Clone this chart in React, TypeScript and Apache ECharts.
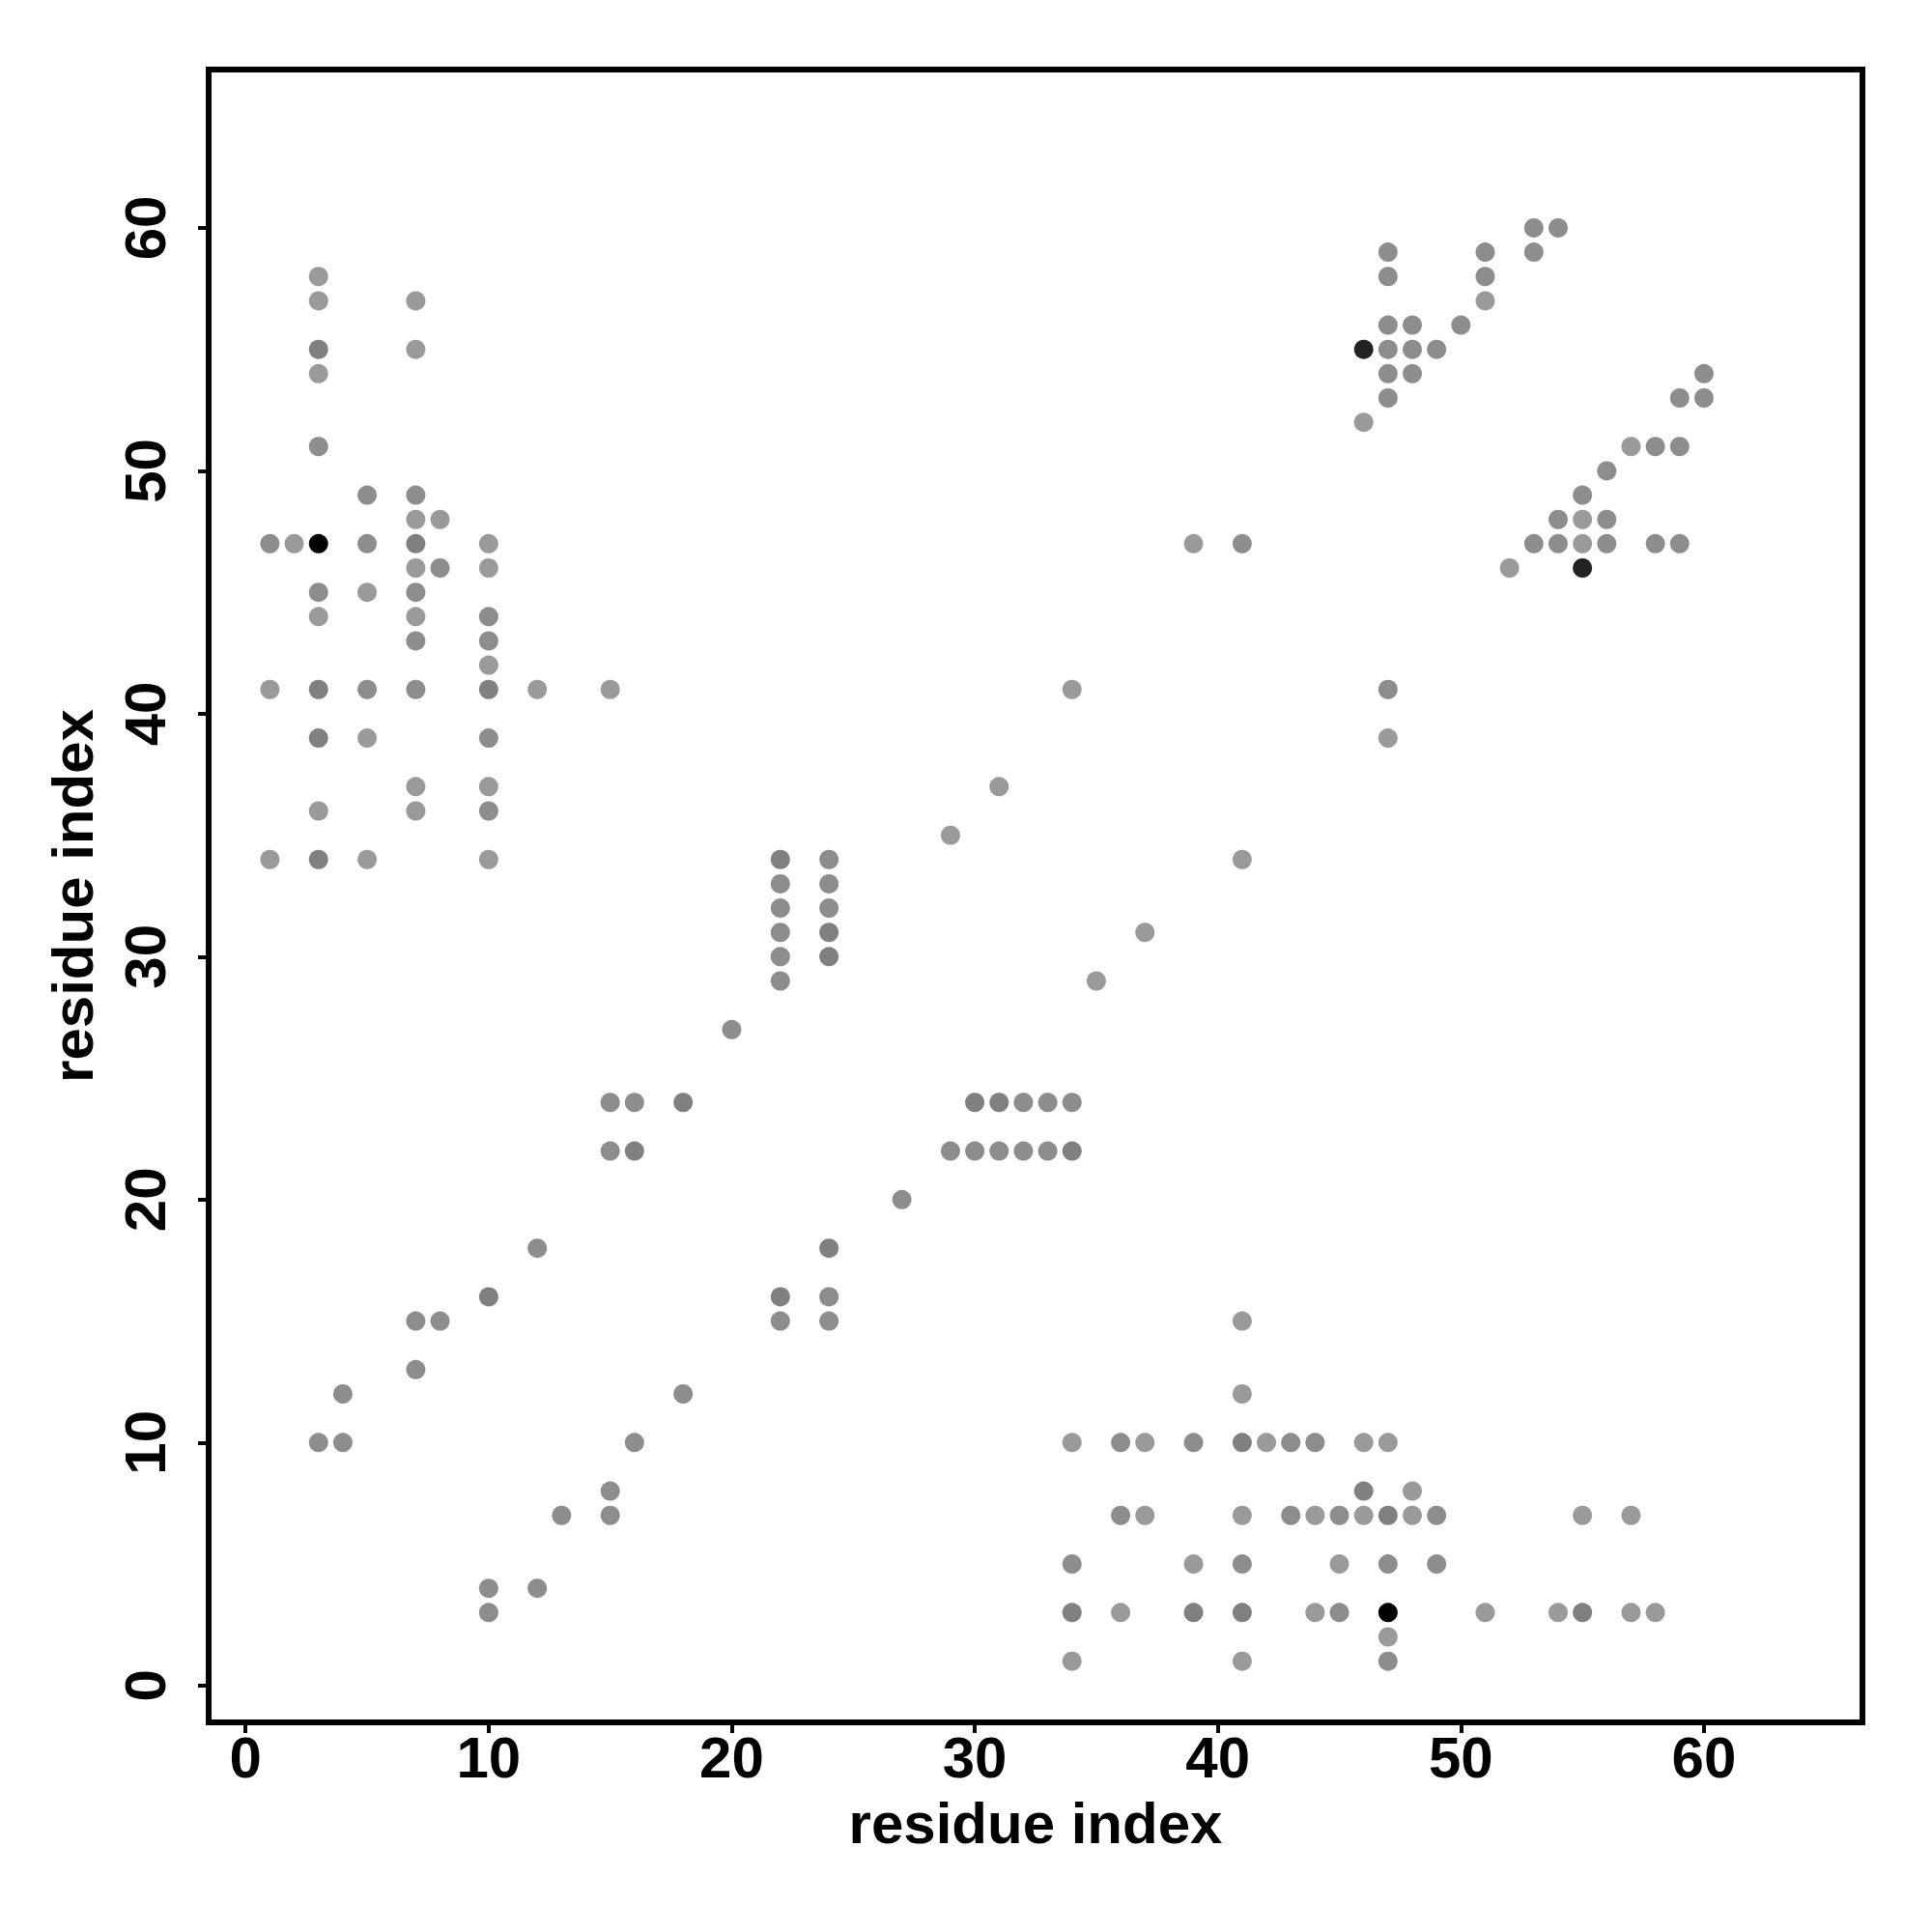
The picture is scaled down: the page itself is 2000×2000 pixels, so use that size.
import React, { useEffect, useRef } from "react";
import * as echarts from "echarts";

// [residue i, residue j, overlap level]
const upperLeft: number[][] = [
  [1, 47, 2], [1, 41, 1], [1, 34, 1],
  [2, 47, 1],
  [3, 58, 1], [3, 57, 1], [3, 55, 3], [3, 54, 1], [3, 51, 2], [3, 47, 5], [3, 45, 2], [3, 44, 1], [3, 41, 3], [3, 39, 3], [3, 36, 1], [3, 34, 3],
  [5, 49, 2], [5, 47, 2], [5, 45, 1], [5, 41, 2], [5, 39, 1], [5, 34, 1],
  [7, 57, 1], [7, 55, 1], [7, 49, 2], [7, 48, 1], [7, 47, 3], [7, 46, 1], [7, 45, 2], [7, 44, 1], [7, 43, 2], [7, 41, 2], [7, 37, 1], [7, 36, 1],
  [8, 48, 1], [8, 46, 2],
  [10, 47, 1], [10, 46, 1], [10, 44, 2], [10, 43, 2], [10, 42, 1], [10, 41, 3], [10, 39, 2], [10, 37, 1], [10, 36, 2], [10, 34, 1],
  [12, 41, 1], [15, 41, 1],
];

const lowerLeft: number[][] = [
  [3, 10, 2], [4, 12, 2], [4, 10, 2], [7, 15, 2], [7, 13, 2], [8, 15, 2], [10, 16, 3], [10, 4, 2], [10, 3, 2],
  [12, 18, 2], [12, 4, 2], [13, 7, 2], [15, 24, 2], [15, 22, 2], [15, 8, 2], [15, 7, 2], [16, 24, 2], [16, 22, 3],
  [16, 10, 2], [18, 24, 3], [18, 12, 2], [20, 27, 2],
];

const middle: number[][] = [
  [22, 34, 3], [22, 33, 2], [22, 32, 2], [22, 31, 2], [22, 30, 2], [22, 29, 2], [22, 16, 3], [22, 15, 2],
  [24, 34, 2], [24, 33, 2], [24, 32, 2], [24, 31, 3], [24, 30, 3], [24, 18, 3], [24, 16, 2], [24, 15, 2],
  [27, 20, 2], [29, 35, 1], [29, 22, 2], [30, 24, 3], [30, 22, 2], [31, 37, 1], [31, 24, 3], [31, 22, 2],
  [32, 24, 2], [32, 22, 2], [33, 24, 2], [33, 22, 2], [34, 41, 1], [34, 24, 2], [34, 22, 3], [35, 29, 1],
  [37, 31, 1], [39, 47, 1], [41, 47, 2], [41, 34, 1], [47, 41, 2], [47, 39, 1],
];

const lowerRight: number[][] = [
  [34, 10, 1], [34, 5, 2], [34, 3, 3], [34, 1, 1],
  [36, 10, 2], [36, 7, 2], [36, 3, 1],
  [37, 10, 1], [37, 7, 1],
  [39, 10, 2], [39, 5, 1], [39, 3, 3],
  [41, 15, 1], [41, 12, 1], [41, 10, 3], [41, 7, 1], [41, 5, 2], [41, 3, 3], [41, 1, 1],
  [42, 10, 1], [43, 10, 2], [43, 7, 2], [44, 10, 2], [44, 7, 1], [44, 3, 1], [45, 7, 2], [45, 5, 1], [45, 3, 2],
  [46, 10, 1], [46, 8, 3], [46, 7, 1],
  [47, 10, 1], [47, 7, 3], [47, 5, 2], [47, 3, 5], [47, 2, 1], [47, 1, 2],
  [48, 8, 1], [48, 7, 1], [49, 7, 2], [49, 5, 2], [51, 3, 1], [54, 3, 1], [55, 7, 1], [55, 3, 3],
  [57, 7, 1], [57, 3, 1], [58, 3, 1],
];

const upperRight: number[][] = [
  [46, 55, 4], [46, 52, 1], [47, 59, 2], [47, 58, 2], [47, 56, 2], [47, 55, 2], [47, 54, 2], [47, 53, 2],
  [48, 56, 2], [48, 55, 2], [48, 54, 2], [49, 55, 2], [50, 56, 2], [51, 59, 2], [51, 58, 2], [51, 57, 1],
  [52, 46, 1], [53, 60, 2], [53, 59, 2], [53, 47, 2], [54, 60, 2], [54, 48, 2], [54, 47, 2], [55, 49, 2],
  [55, 48, 1], [55, 47, 1], [55, 46, 4], [56, 50, 2], [56, 48, 2], [56, 47, 2], [57, 51, 1], [58, 51, 2],
  [58, 47, 2], [59, 53, 2], [59, 51, 2], [59, 47, 2], [60, 54, 2], [60, 53, 2],
];

const tickValues = [0, 10, 20, 30, 40, 50, 60];
const axisMin = -1.52;
const axisMax = 66.52;
const axisTitle = "residue index";

const shadeColors: Record<number, string> = {
  1: "#9a9a9a",
  2: "#8d8d8d",
  3: "#808080",
  4: "#222222",
  5: "#000000",
};

const FONT = "'Liberation Sans', Arial, Helvetica, sans-serif";

export default function App() {
  const ref = useRef<HTMLDivElement>(null);

  useEffect(() => {
    if (!ref.current) return;
    const chart = echarts.init(ref.current, null, { renderer: "svg" });
    const all = [...upperLeft, ...lowerLeft, ...middle, ...lowerRight, ...upperRight];

    const axisCommon = {
      type: "value" as const,
      min: axisMin,
      max: axisMax,
      splitLine: { show: false },
      axisLine: { show: false, onZero: false },
      axisTick: {
        show: true,
        customValues: tickValues,
        length: 11,
        lineStyle: { color: "#000", width: 4 },
      },
      name: axisTitle,
      nameLocation: "middle" as const,
      nameTextStyle: {
        fontFamily: FONT,
        fontWeight: "bold" as const,
        fontSize: 60,
        color: "#000",
        verticalAlign: "middle" as const,
      },
    };

    chart.setOption({
      animation: false,
      backgroundColor: "#fff",
      grid: {
        left: 216,
        right: 72,
        top: 72,
        bottom: 217,
        show: true,
        borderColor: "#000",
        borderWidth: 6,
        containLabel: false,
      },
      xAxis: {
        ...axisCommon,
        nameGap: 104,
        axisLabel: {
          customValues: tickValues,
          fontFamily: FONT,
          fontWeight: "bold",
          fontSize: 60,
          color: "#000",
          margin: 6,
        },
      },
      yAxis: {
        ...axisCommon,
        nameGap: 141,
        axisLabel: {
          customValues: tickValues,
          fontFamily: FONT,
          fontWeight: "bold",
          fontSize: 60,
          color: "#000",
          rotate: 90,
          margin: 36,
        },
      },
      series: [
        {
          type: "scatter",
          data: all.map((d) => [d[0], d[1], d[2]]),
          symbol: "circle",
          symbolSize: 20,
          itemStyle: {
            color: (p: any) => shadeColors[p.value[2]],
            opacity: 1,
          },
        },
      ],
    });

    return () => chart.dispose();
  }, []);

  return (
    <div
      ref={ref}
      style={{ position: "absolute", left: 0, top: 0, width: 2000, height: 2000 }}
    />
  );
}
